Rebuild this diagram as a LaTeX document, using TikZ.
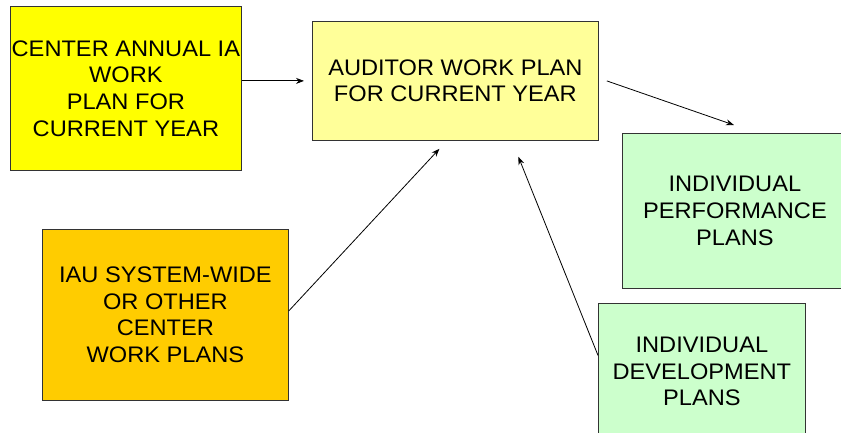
\documentclass[tikz,border=0pt]{standalone}
\usepackage{fontspec}
\setmainfont[FakeStretch=1.05]{Liberation Sans}
\usetikzlibrary{arrows.meta}
\definecolor{cyellow}{HTML}{FFFF00}
\definecolor{clight}{HTML}{FFFF99}
\definecolor{cgreen}{HTML}{CCFFCC}
\definecolor{corange}{HTML}{FFCC00}
\tikzset{
  planbox/.style={draw=black!80, line width=0.8pt, anchor=north west, inner sep=0pt,
    align=center, font=\fontsize{22.5}{26.7}\selectfont},
  arr/.style={draw=black, line width=0.8pt, -{Stealth[length=8pt,width=6pt]}}
}
\begin{document}
\begin{tikzpicture}[x=1pt,y=-1pt]
\useasboundingbox (0,0) rectangle (841,433);
\clip (0,0) rectangle (841,433);
\node[planbox, fill=cyellow, minimum width=231pt, minimum height=164pt] (b1) at (10,6)
  {CENTER ANNUAL IA\\WORK\\PLAN FOR\\CURRENT YEAR};
\node[planbox, fill=clight, minimum width=286pt, minimum height=119pt] (b2) at (312,21)
  {AUDITOR WORK PLAN\ \\FOR CURRENT YEAR};
\node[planbox, fill=cgreen, minimum width=225pt, minimum height=155pt] (b3) at (622,133)
  {INDIVIDUAL\\PERFORMANCE\\PLANS};
\node[planbox, fill=corange, minimum width=246pt, minimum height=171pt] (b4) at (42,229)
  {IAU SYSTEM-WIDE\\OR OTHER\\CENTER\\WORK PLANS};
\node[planbox, fill=cgreen, minimum width=207pt, minimum height=136pt] (b5) at (598,303)
  {INDIVIDUAL\\DEVELOPMENT\\PLANS};
\draw[arr, shorten >=8pt] (b1.east |- b2.west) -- (b2.west);
\draw[arr] ([xshift=8pt]b2.east) -- ([xshift=-1pt,yshift=8pt]b3.north);
\draw[arr] ([yshift=4pt]b4.east) -- ([xshift=-16pt,yshift=-8pt]b2.south);
\draw[arr] ([yshift=16pt]b5.west) -- ([xshift=63pt,yshift=-16pt]b2.south);
\end{tikzpicture}
\end{document}
